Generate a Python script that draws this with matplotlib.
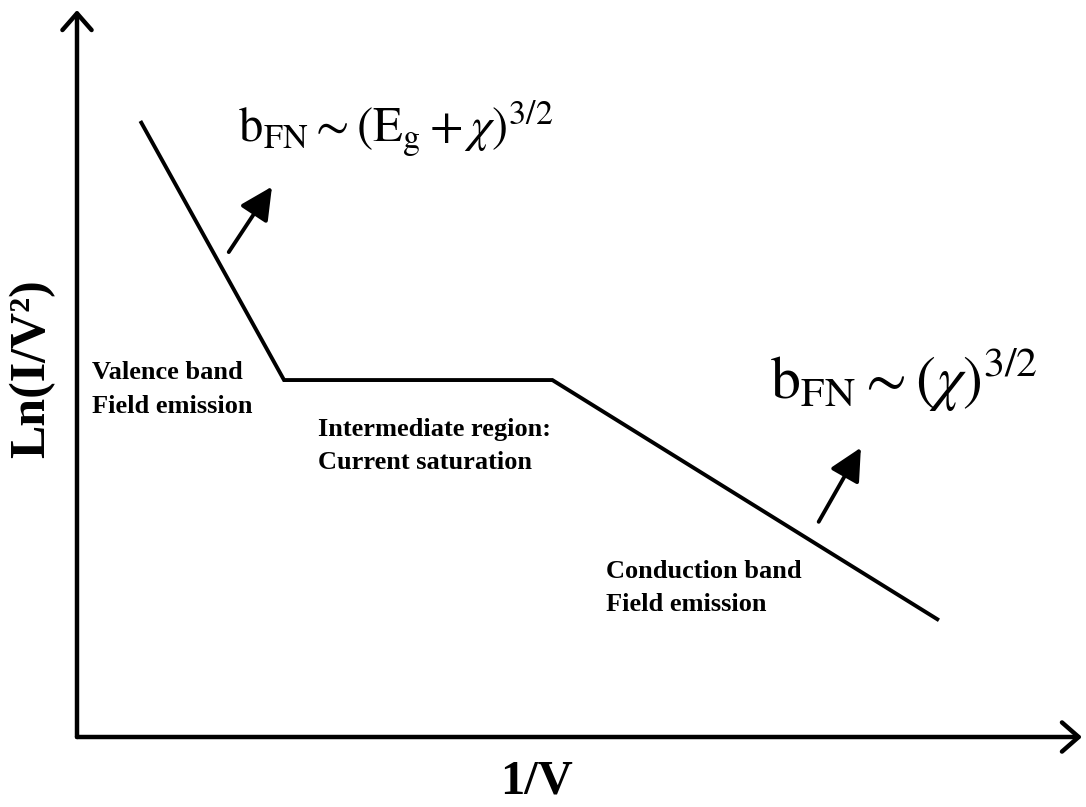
import matplotlib
matplotlib.use("Agg")
import matplotlib.pyplot as plt

plt.rcParams['font.family'] = ['Liberation Serif', 'DejaVu Serif']
plt.rcParams['mathtext.fontset'] = 'stix'

# schematic FN plot: Ln(I/V^2) vs 1/V (arbitrary units)
inv_v = [0.64, 2.06, 4.73, 8.56]
ln_iv2 = [8.45, 4.91, 4.91, 1.62]

# slope arrows (tail, head)
arrow_tails = [(1.51, 6.67), (7.38, 2.96)]
arrow_heads = [(1.94, 7.57), (7.80, 3.98)]

formulas = [r'$\mathrm{b}_{\mathrm{FN}}\sim(\mathrm{E}_{\mathrm{g}}+\chi)^{3/2}$',
            r'$\mathrm{b}_{\mathrm{FN}}\sim(\chi)^{3/2}$']
region_labels = [["Valence band", "Field emission"],
                 ["Intermediate region:", "Current saturation"],
                 ["Conduction band", "Field emission"]]

fig = plt.figure(figsize=(10.86, 8.07), dpi=100)
ax = fig.add_axes([77 / 1086, 70 / 807, 1005 / 1086, 727 / 807])
ax.set_xlim(0, 10)
ax.set_ylim(0, 10)
ax.axis('off')

# axes with open arrow heads
axis_style = dict(arrowstyle='->, head_length=0.4, head_width=0.35',
                  lw=3.2, color='black', mutation_scale=30,
                  shrinkA=0, shrinkB=0)
ax.annotate('', xy=(0, 1), xytext=(0, 0), xycoords='axes fraction',
            arrowprops=axis_style, annotation_clip=False)
ax.annotate('', xy=(1, 0), xytext=(0, 0), xycoords='axes fraction',
            arrowprops=axis_style, annotation_clip=False)

ax.plot(inv_v, ln_iv2, color='black', lw=2.8, solid_joinstyle='miter')

for tail, head in zip(arrow_tails, arrow_heads):
    ax.annotate('', xy=head, xytext=tail,
                arrowprops=dict(arrowstyle='-|>, head_length=0.9, head_width=0.45',
                                lw=2.8, color='black', mutation_scale=22,
                                shrinkA=0, shrinkB=0))

ax.text(1.60, 8.18, formulas[0], fontsize=35, ha='left', va='baseline')
ax.text(6.90, 4.66, formulas[1], fontsize=43, ha='left', va='baseline')

label_pos = [(0.15, 4.92), (2.40, 4.14), (5.26, 2.19)]
line_gap = 0.46
for (x0, y0), lines in zip(label_pos, region_labels):
    for i, s in enumerate(lines):
        ax.text(x0, y0 - i * line_gap, s, fontsize=19, fontweight='bold',
                ha='left', va='baseline')

fig.text(537 / 1086, 13 / 807, "1/V", fontsize=35, fontweight='bold',
         ha='center', va='baseline')
fig.text(32 / 1086, 1 - 369 / 807, "Ln(I/V²)", fontsize=36, fontweight='bold',
         ha='center', va='center', rotation=90)

fig.savefig("out.png", dpi=100)
